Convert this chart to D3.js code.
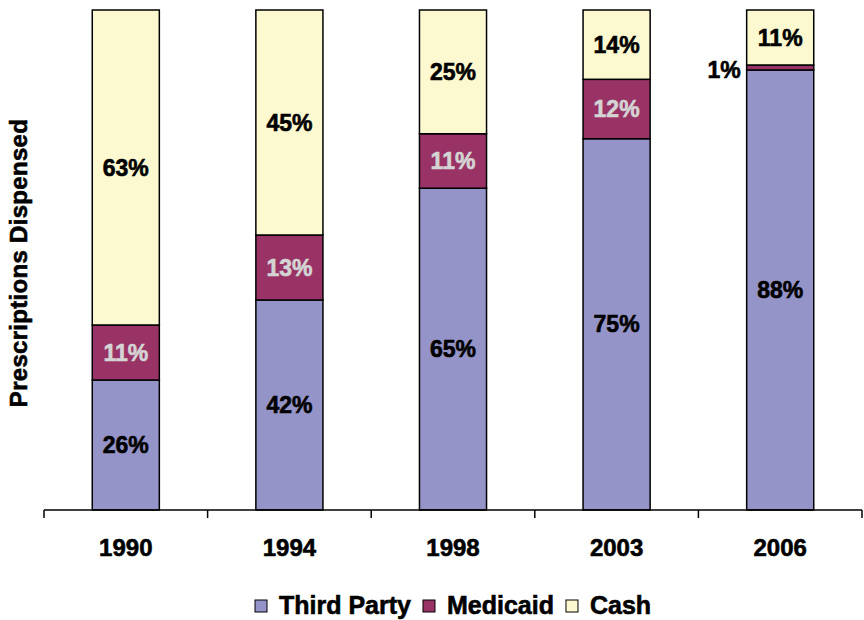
<!DOCTYPE html>
<html>
<head>
<meta charset="utf-8">
<script src="https://cdn.jsdelivr.net/npm/d3@7"></script>
<style>
  html, body { margin: 0; padding: 0; background: #fff; }
  svg { display: block; font-family: "Liberation Sans", Arial, sans-serif; font-weight: bold; }
</style>
</head>
<body>
<svg id="chart" width="864" height="620"></svg>
<script>
const years = ["1990", "1994", "1998", "2003", "2006"];
const seriesNames = ["Third Party", "Medicaid", "Cash"];
const thirdParty = [26, 42, 65, 75, 88];
const medicaid = [11, 13, 11, 12, 1];
const cash = [63, 45, 25, 14, 11];
const colors = ["#9494c8", "#993366", "#fcf8d0"];
const labelColors = ["#000000", "#d4d4d4", "#000000"];

const rows = years.map((y, i) => ({
  year: y,
  "Third Party": thirdParty[i],
  "Medicaid": medicaid[i],
  "Cash": cash[i]
}));

const svg = d3.select("#chart");
const x = d3.scaleBand().domain(years).range([44, 862]).padding(0);
const y = d3.scaleLinear().domain([0, 1]).range([510, 10]);
const barW = x.bandwidth() * 0.41;

const stack = d3.stack().keys(seriesNames).offset(d3.stackOffsetExpand);
const stacked = stack(rows);

function heavy(sel, color) {
  return sel.attr("fill", color).attr("stroke", color).attr("stroke-width", 0.6);
}

const g = svg.append("g");
stacked.forEach((layer, si) => {
  const lg = g.append("g");
  lg.selectAll("rect").data(layer).enter().append("rect")
    .attr("x", d => x(d.data.year) + (x.bandwidth() - barW) / 2)
    .attr("y", d => y(d[1]))
    .attr("width", barW)
    .attr("height", d => y(d[0]) - y(d[1]))
    .attr("fill", colors[si])
    .attr("stroke", "#000")
    .attr("stroke-width", 1.5);
});

// labels
stacked.forEach((layer, si) => {
  layer.forEach(d => {
    const val = d.data[seriesNames[si]];
    const cx = x(d.data.year) + x.bandwidth() / 2;
    const cy = (y(d[0]) + y(d[1])) / 2;
    const small = (y(d[0]) - y(d[1])) < 20;
    const t = svg.append("text")
      .attr("x", small ? x(d.data.year) + (x.bandwidth() - barW) / 2 - 6 : cx)
      .attr("y", small ? cy + 2 : cy)
      .attr("text-anchor", small ? "end" : "middle")
      .attr("dominant-baseline", "central")
      .attr("font-size", 23)
      .text(val + "%");
    heavy(t, small ? "#000" : labelColors[si]);
  });
});

// x axis
const axisG = svg.append("g").attr("transform", "translate(0,510)");
axisG.append("line").attr("x1", 44).attr("x2", 862).attr("y1", 0).attr("y2", 0)
  .attr("stroke", "#000").attr("stroke-width", 1.5);
const tickPos = years.map(yr => x(yr)).concat([x.range()[1]]);
axisG.selectAll("line.tick").data(tickPos).enter().append("line")
  .attr("class", "tick")
  .attr("x1", d => d).attr("x2", d => d).attr("y1", 0).attr("y2", 8)
  .attr("stroke", "#000").attr("stroke-width", 1.5);
heavy(axisG.selectAll("text").data(years).enter().append("text")
  .attr("x", d => x(d) + x.bandwidth() / 2)
  .attr("y", 46)
  .attr("text-anchor", "middle")
  .attr("font-size", 24)
  .text(d => d), "#000");

// y title
heavy(svg.append("text")
  .attr("transform", "translate(27,263) rotate(-90)")
  .attr("text-anchor", "middle")
  .attr("font-size", 24)
  .attr("letter-spacing", 0.3)
  .text("Prescriptions Dispensed"), "#000");

// legend
const leg = svg.append("g");
let lx = 255;
seriesNames.forEach((name, i) => {
  leg.append("rect").attr("x", lx).attr("y", 600).attr("width", 12).attr("height", 12)
    .attr("fill", colors[i]).attr("stroke", "#000").attr("stroke-width", 1);
  const t = leg.append("text").attr("x", lx + 24).attr("y", 614)
    .attr("font-size", 25).text(name);
  heavy(t, "#000");
  lx = lx + 24 + t.node().getComputedTextLength() + 12;
});
</script>
</body>
</html>
